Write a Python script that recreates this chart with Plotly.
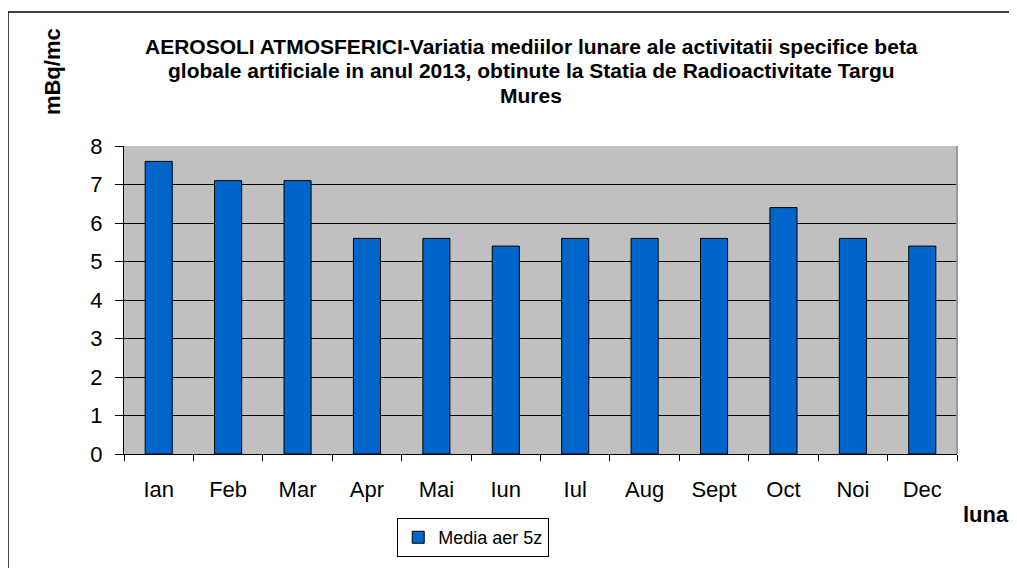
import plotly.graph_objects as go

months = ["Ian", "Feb", "Mar", "Apr", "Mai", "Iun", "Iul", "Aug", "Sept", "Oct", "Noi", "Dec"]
media_aer_5z = [7.6, 7.1, 7.1, 5.6, 5.6, 5.4, 5.6, 5.6, 5.6, 6.4, 5.6, 5.4]
y_ticks = [0, 1, 2, 3, 4, 5, 6, 7, 8]

title_lines = [
    "AEROSOLI ATMOSFERICI-Variatia mediilor lunare ale activitatii specifice beta",
    "globale artificiale in anul 2013, obtinute la Statia de Radioactivitate Targu",
    "Mures",
]

FONT = "Liberation Sans, Arial, sans-serif"

fig = go.Figure()
fig.add_trace(go.Bar(
    x=months, y=media_aer_5z, name="Media aer 5z",
    marker=dict(color="#0066cc", line=dict(color="black", width=1)),
    width=0.39,
))

fig.update_layout(
    width=1017, height=568,
    margin=dict(l=116, r=68, t=138, b=122),
    paper_bgcolor="white",
    plot_bgcolor="#c0c0c0",
    font=dict(family=FONT, color="black", size=20),
    showlegend=True,
    legend=dict(
        x=0.328, y=-0.208, xanchor="left", yanchor="top",
        bordercolor="black", borderwidth=1, bgcolor="white",
        font=dict(size=18, family=FONT),
        itemwidth=30,
    ),
)

fig.update_yaxes(
    range=[0, 8], tickvals=y_ticks, showgrid=True, gridcolor="black", gridwidth=1,
    showline=True, linecolor="black", linewidth=1, ticks="outside", ticklen=8,
    tickcolor="black", tickfont=dict(size=22), zeroline=False,
    ticklabelstandoff=8,
)
fig.update_xaxes(
    showline=True, linecolor="black", linewidth=1, ticks="outside", ticklen=6,
    tickson="boundaries", tickcolor="black", tickfont=dict(size=22),
    ticklabelstandoff=16, showgrid=False,
)

# right light-gray plot edge
fig.add_shape(type="line", xref="paper", yref="paper", x0=1, x1=1, y0=0, y1=1,
              line=dict(color="#999999", width=2))
# outer chart border
fig.add_shape(type="rect", xref="paper", yref="paper",
              x0=-0.1393, x1=1.09, y0=-0.42, y1=1.435,
              line=dict(color="black", width=1.5), layer="above")

# title lines (screen centres ~46, 70, 95 px)
for i, line in enumerate(title_lines):
    yc = 46 + 24.5 * i
    fig.add_annotation(text="<b>" + line + "</b>", xref="paper", yref="paper",
                       x=0.489, y=(454 - yc) / 308, xanchor="center", yanchor="middle",
                       showarrow=False, font=dict(size=21, family=FONT))

fig.add_annotation(text="<b>mBq/mc</b>", xref="paper", yref="paper",
                   x=-0.0864, y=1.240, xanchor="center", yanchor="middle",
                   textangle=-90, showarrow=False,
                   font=dict(size=22, family=FONT))
fig.add_annotation(text="<b>luna</b>", xref="paper", yref="paper",
                   x=1.035, y=-0.195, xanchor="center", yanchor="middle",
                   showarrow=False,
                   font=dict(size=22, family=FONT))

fig.write_html("out.html")
